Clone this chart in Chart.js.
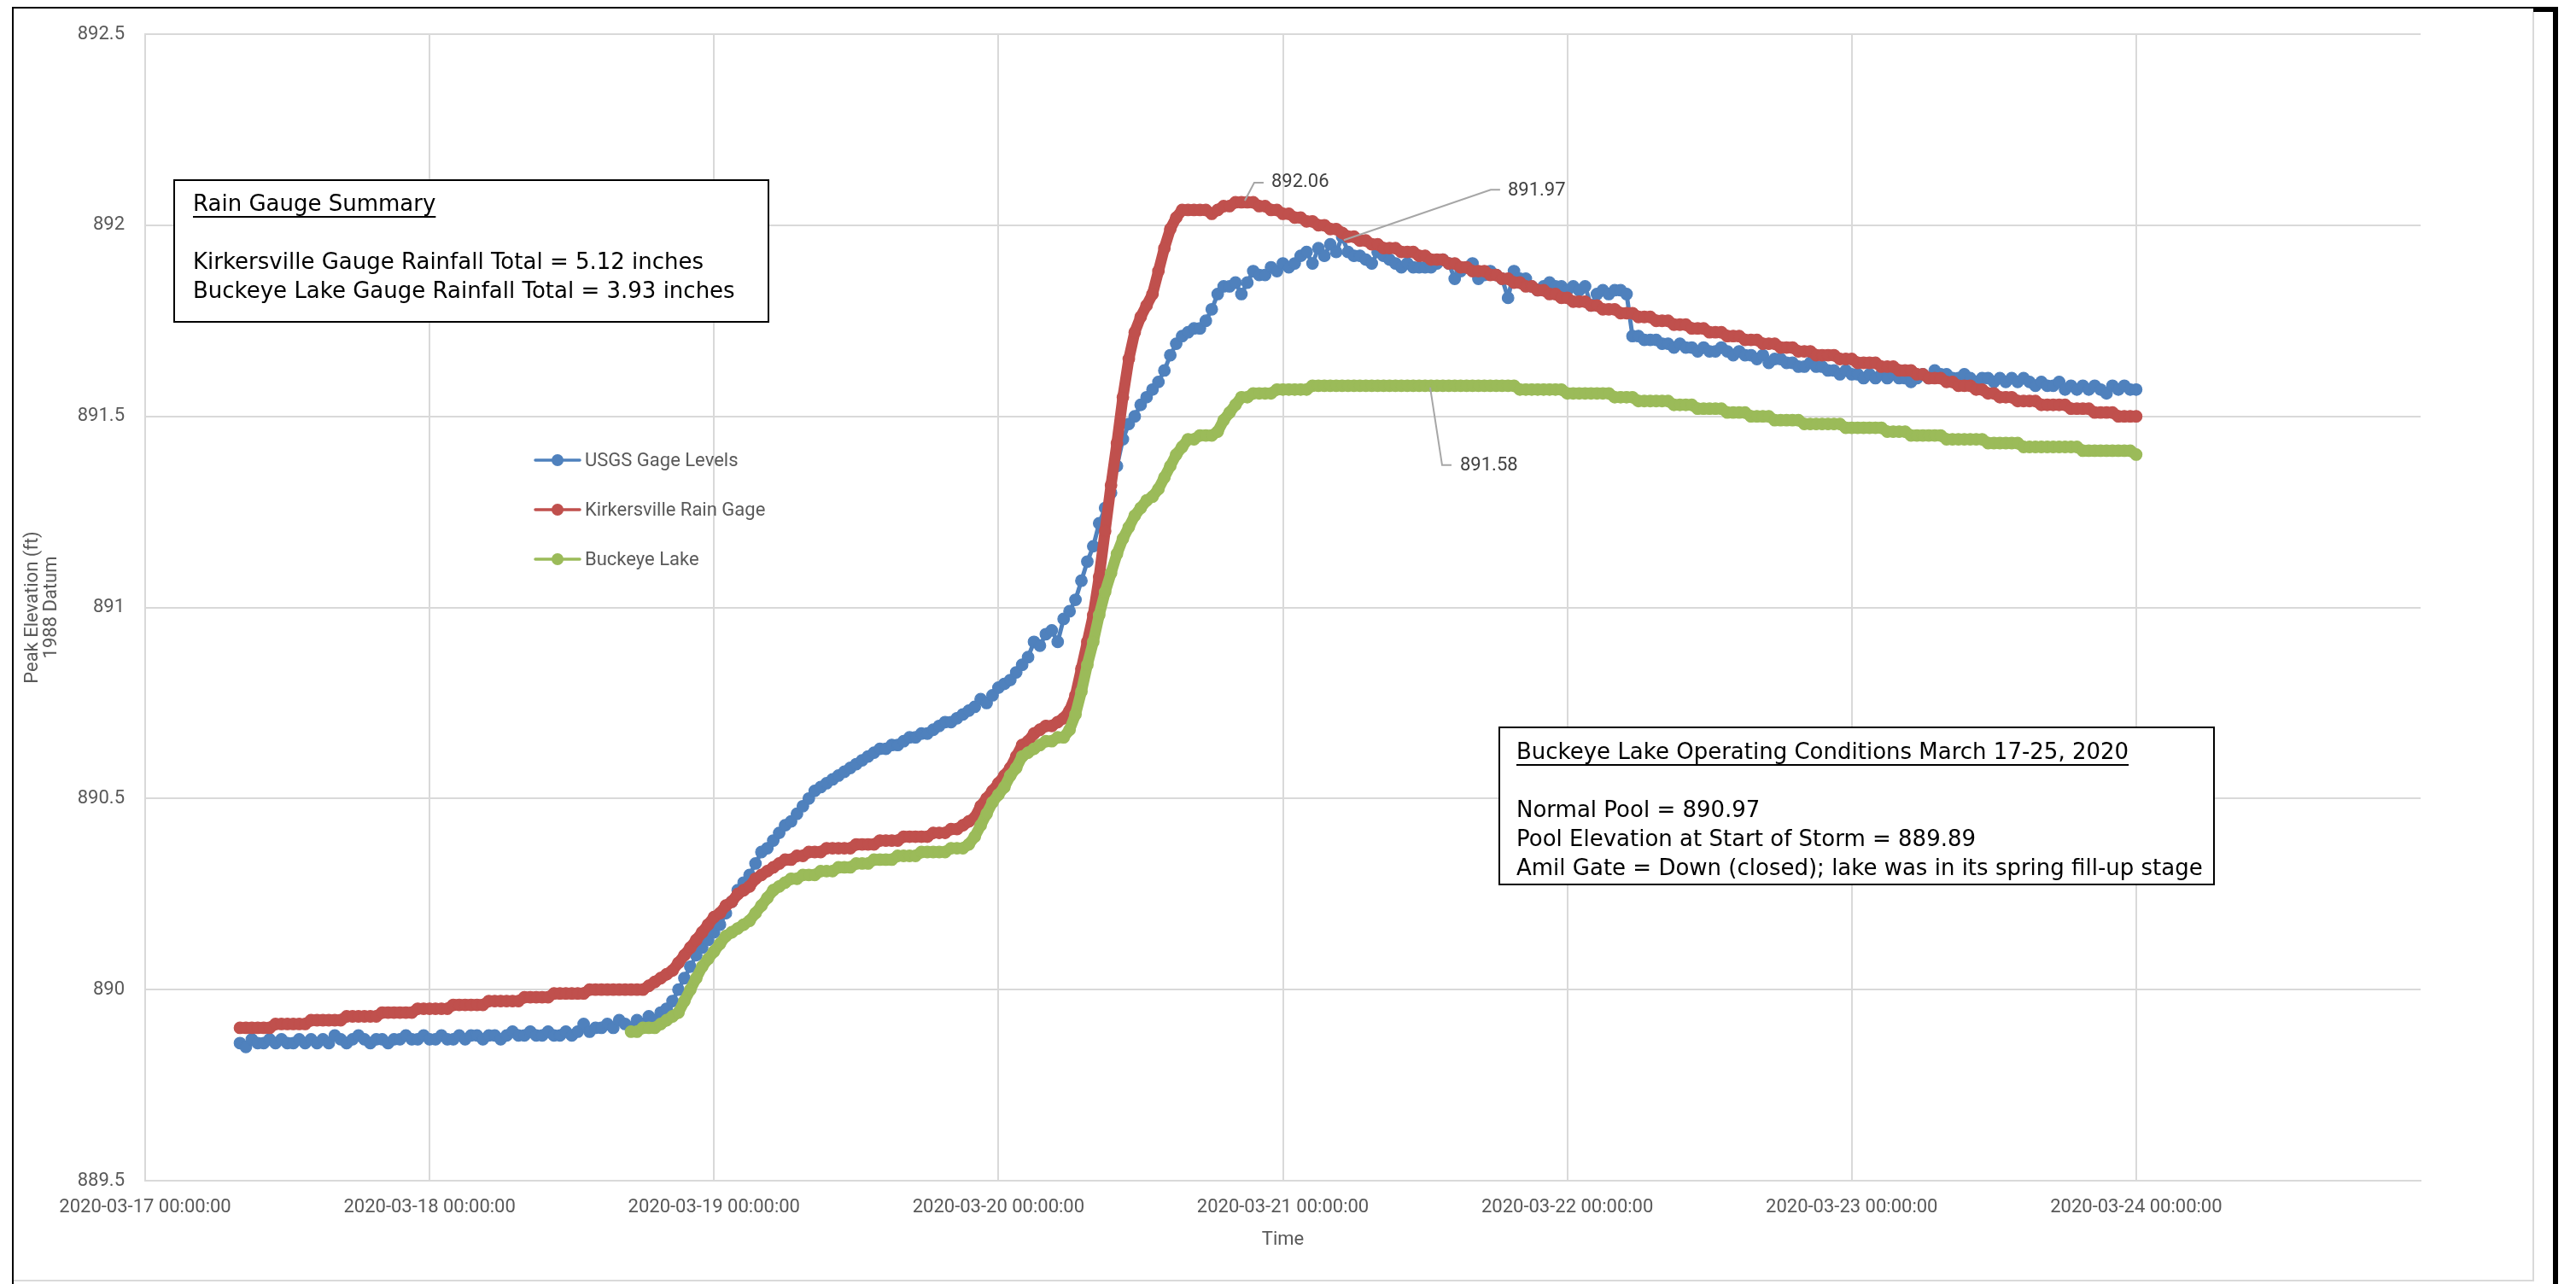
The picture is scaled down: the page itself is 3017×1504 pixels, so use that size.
<!DOCTYPE html>
<html>
<head>
<meta charset="utf-8">
<title>Buckeye Lake Peak Elevation, March 2020</title>
<script src="https://cdn.jsdelivr.net/npm/chart.js@4.4.1/dist/chart.umd.min.js"></script>
<style>
  html, body { margin: 0; padding: 0; background: #ffffff; }
  #wrap { width: 3017px; height: 1504px; position: relative; }
  canvas { display: block; }
</style>
</head>
<body>
<div id="wrap"><canvas id="chart" width="3017" height="1504"></canvas></div>
<script>
// ---------------------------------------------------------------------------
// Data: elevations (ft, 1988 datum) sampled every half hour.
// Hours are counted from 2020-03-17 00:00:00.
// ---------------------------------------------------------------------------
const SAMPLE_STEP_HOURS = 0.5;
const AXIS_END_HOURS = 192; // 2020-03-25 00:00:00

const dayTickLabels = [
  '2020-03-17 00:00:00', '2020-03-18 00:00:00', '2020-03-19 00:00:00',
  '2020-03-20 00:00:00', '2020-03-21 00:00:00', '2020-03-22 00:00:00',
  '2020-03-23 00:00:00', '2020-03-24 00:00:00'
];

const seriesNames = ['USGS Gage Levels', 'Kirkersville Rain Gage', 'Buckeye Lake'];

// USGS gage, starting 2020-03-17 08:00
const usgsStartHour = 8;
const usgsLevels = [
  889.86,889.85,889.87,889.86,889.86,889.87,889.86,889.87,889.86,889.86,889.87,889.86,
  889.87,889.86,889.87,889.86,889.88,889.87,889.86,889.87,889.88,889.87,889.86,889.87,
  889.87,889.86,889.87,889.87,889.88,889.87,889.87,889.88,889.87,889.87,889.88,889.87,
  889.87,889.88,889.87,889.88,889.88,889.87,889.88,889.88,889.87,889.88,889.89,889.88,
  889.88,889.89,889.88,889.88,889.89,889.88,889.88,889.89,889.88,889.89,889.91,889.89,
  889.90,889.90,889.91,889.90,889.92,889.91,889.90,889.92,889.91,889.93,889.92,889.94,
  889.95,889.97,890.00,890.03,890.06,890.09,890.11,890.13,890.15,890.17,890.20,890.23,
  890.26,890.28,890.30,890.33,890.36,890.37,890.39,890.41,890.43,890.44,890.46,890.48,
  890.50,890.52,890.53,890.54,890.55,890.56,890.57,890.58,890.59,890.60,890.61,890.62,
  890.63,890.63,890.64,890.64,890.65,890.66,890.66,890.67,890.67,890.68,890.69,890.70,
  890.70,890.71,890.72,890.73,890.74,890.76,890.75,890.77,890.79,890.80,890.81,890.83,
  890.85,890.87,890.91,890.90,890.93,890.94,890.91,890.97,890.99,891.02,891.07,891.12,
  891.16,891.22,891.26,891.30,891.37,891.44,891.48,891.50,891.53,891.55,891.57,891.59,
  891.62,891.66,891.69,891.71,891.72,891.73,891.73,891.75,891.78,891.82,891.84,891.84,
  891.85,891.82,891.85,891.88,891.87,891.87,891.89,891.88,891.90,891.89,891.90,891.92,
  891.93,891.90,891.94,891.92,891.95,891.93,891.97,891.93,891.92,891.92,891.91,891.90,
  891.93,891.92,891.91,891.90,891.89,891.90,891.89,891.89,891.89,891.89,891.90,891.91,
  891.90,891.86,891.88,891.89,891.90,891.86,891.87,891.88,891.87,891.86,891.81,891.88,
  891.86,891.86,891.84,891.83,891.84,891.85,891.84,891.84,891.83,891.84,891.83,891.84,
  891.79,891.82,891.83,891.82,891.83,891.83,891.82,891.71,891.71,891.70,891.70,891.70,
  891.69,891.69,891.68,891.69,891.68,891.68,891.67,891.68,891.67,891.67,891.68,891.67,
  891.66,891.67,891.66,891.66,891.65,891.66,891.64,891.65,891.65,891.64,891.64,891.63,
  891.63,891.64,891.63,891.63,891.62,891.62,891.61,891.62,891.61,891.61,891.60,891.61,
  891.60,891.61,891.60,891.61,891.60,891.60,891.59,891.60,891.61,891.60,891.62,891.61,
  891.61,891.60,891.60,891.61,891.60,891.59,891.60,891.60,891.59,891.60,891.59,891.60,
  891.59,891.60,891.59,891.58,891.59,891.58,891.58,891.59,891.57,891.58,891.57,891.58,
  891.57,891.58,891.57,891.56,891.58,891.57,891.58,891.57,891.57
];

// Kirkersville rain gage, starting 2020-03-17 08:00
const kirkersvilleStartHour = 8;
const kirkersvilleLevels = [
  889.90,889.90,889.90,889.90,889.90,889.90,889.91,889.91,889.91,889.91,889.91,889.91,
  889.92,889.92,889.92,889.92,889.92,889.92,889.93,889.93,889.93,889.93,889.93,889.93,
  889.94,889.94,889.94,889.94,889.94,889.94,889.95,889.95,889.95,889.95,889.95,889.95,
  889.96,889.96,889.96,889.96,889.96,889.96,889.97,889.97,889.97,889.97,889.97,889.97,
  889.98,889.98,889.98,889.98,889.98,889.99,889.99,889.99,889.99,889.99,889.99,890.00,
  890.00,890.00,890.00,890.00,890.00,890.00,890.00,890.00,890.00,890.01,890.02,890.03,
  890.04,890.05,890.07,890.09,890.11,890.13,890.15,890.17,890.19,890.20,890.22,890.23,
  890.25,890.26,890.27,890.29,890.30,890.31,890.32,890.33,890.34,890.34,890.35,890.35,
  890.36,890.36,890.36,890.37,890.37,890.37,890.37,890.37,890.38,890.38,890.38,890.38,
  890.39,890.39,890.39,890.39,890.40,890.40,890.40,890.40,890.40,890.41,890.41,890.41,
  890.42,890.42,890.43,890.44,890.45,890.48,890.50,890.52,890.54,890.56,890.58,890.61,
  890.64,890.65,890.67,890.68,890.69,890.69,890.70,890.71,890.73,890.77,890.84,890.91,
  890.98,891.08,891.20,891.32,891.43,891.55,891.65,891.72,891.76,891.79,891.82,891.88,
  891.94,891.99,892.02,892.04,892.04,892.04,892.04,892.04,892.03,892.04,892.05,892.05,
  892.06,892.06,892.06,892.06,892.05,892.05,892.04,892.04,892.03,892.03,892.02,892.02,
  892.01,892.01,892.00,892.00,891.99,891.99,891.98,891.97,891.97,891.96,891.96,891.95,
  891.95,891.94,891.94,891.94,891.93,891.93,891.93,891.92,891.92,891.91,891.91,891.91,
  891.90,891.90,891.89,891.89,891.88,891.88,891.88,891.87,891.87,891.86,891.86,891.85,
  891.85,891.84,891.84,891.83,891.83,891.82,891.82,891.81,891.81,891.80,891.80,891.80,
  891.79,891.79,891.78,891.78,891.78,891.77,891.77,891.77,891.76,891.76,891.76,891.75,
  891.75,891.75,891.74,891.74,891.74,891.73,891.73,891.73,891.72,891.72,891.72,891.71,
  891.71,891.71,891.70,891.70,891.70,891.69,891.69,891.69,891.68,891.68,891.68,891.67,
  891.67,891.67,891.66,891.66,891.66,891.66,891.65,891.65,891.65,891.64,891.64,891.64,
  891.64,891.63,891.63,891.63,891.62,891.62,891.62,891.61,891.61,891.60,891.60,891.60,
  891.59,891.59,891.58,891.58,891.58,891.57,891.57,891.56,891.56,891.55,891.55,891.55,
  891.54,891.54,891.54,891.54,891.53,891.53,891.53,891.53,891.53,891.52,891.52,891.52,
  891.52,891.51,891.51,891.51,891.51,891.50,891.50,891.50,891.50
];

// Buckeye Lake level, starting 2020-03-18 17:00
const buckeyeStartHour = 41;
const buckeyeLakeLevels = [
  889.89,889.89,889.90,889.90,889.90,889.91,889.92,889.93,889.94,889.97,890.00,890.03,
  890.06,890.08,890.10,890.12,890.14,890.15,890.16,890.17,890.18,890.20,890.22,890.24,
  890.26,890.27,890.28,890.29,890.29,890.30,890.30,890.30,890.31,890.31,890.31,890.32,
  890.32,890.32,890.33,890.33,890.33,890.34,890.34,890.34,890.34,890.35,890.35,890.35,
  890.35,890.36,890.36,890.36,890.36,890.36,890.37,890.37,890.37,890.38,890.40,890.43,
  890.46,890.49,890.51,890.53,890.56,890.58,890.61,890.62,890.63,890.64,890.65,890.65,
  890.66,890.66,890.68,890.72,890.78,890.85,890.91,890.98,891.04,891.09,891.14,891.18,
  891.21,891.24,891.26,891.28,891.29,891.31,891.34,891.37,891.40,891.42,891.44,891.44,
  891.45,891.45,891.45,891.46,891.49,891.51,891.53,891.55,891.55,891.56,891.56,891.56,
  891.56,891.57,891.57,891.57,891.57,891.57,891.57,891.58,891.58,891.58,891.58,891.58,
  891.58,891.58,891.58,891.58,891.58,891.58,891.58,891.58,891.58,891.58,891.58,891.58,
  891.58,891.58,891.58,891.58,891.58,891.58,891.58,891.58,891.58,891.58,891.58,891.58,
  891.58,891.58,891.58,891.58,891.58,891.58,891.57,891.57,891.57,891.57,891.57,891.57,
  891.57,891.57,891.56,891.56,891.56,891.56,891.56,891.56,891.56,891.56,891.55,891.55,
  891.55,891.55,891.54,891.54,891.54,891.54,891.54,891.54,891.53,891.53,891.53,891.53,
  891.52,891.52,891.52,891.52,891.52,891.51,891.51,891.51,891.51,891.50,891.50,891.50,
  891.50,891.49,891.49,891.49,891.49,891.49,891.48,891.48,891.48,891.48,891.48,891.48,
  891.48,891.47,891.47,891.47,891.47,891.47,891.47,891.47,891.46,891.46,891.46,891.46,
  891.45,891.45,891.45,891.45,891.45,891.45,891.44,891.44,891.44,891.44,891.44,891.44,
  891.44,891.43,891.43,891.43,891.43,891.43,891.43,891.42,891.42,891.42,891.42,891.42,
  891.42,891.42,891.42,891.42,891.42,891.41,891.41,891.41,891.41,891.41,891.41,891.41,
  891.41,891.41,891.40
];

// Hours at which the peak values are called out (one per series)
const usgsPeakHour = 101;
const kirkersvillePeakHour = 92.5;
const buckeyePeakHour = 108.5;

const rainSummaryLines = [
  'Rain Gauge Summary',
  '',
  'Kirkersville Gauge Rainfall Total = 5.12 inches',
  'Buckeye Lake Gauge Rainfall Total = 3.93 inches'
];
const operatingLines = [
  'Buckeye Lake Operating Conditions March 17-25, 2020',
  '',
  'Normal Pool = 890.97',
  'Pool Elevation at Start of Storm = 889.89',
  'Amil Gate = Down (closed); lake was in its spring fill-up stage'
];

// ---------------------------------------------------------------------------
// Chart construction
// ---------------------------------------------------------------------------
const COLORS = { usgs: '#4F81BD', kirk: '#C0504D', lake: '#9BBB59' };
const TICK_FONT = { family: 'Roboto', size: 22 };
const GRID = '#D9D9D9';

function toPoints(startHour, values) {
  return values.map((v, i) => ({ x: startHour + i * SAMPLE_STEP_HOURS, y: v }));
}

// Dense gauge records read as a continuous band of markers,
// so the connecting stroke is drawn almost as wide as a marker.
function lineSeries(label, color, startHour, values, order, strokeWidth) {
  return {
    label,
    data: toPoints(startHour, values),
    borderColor: color,
    backgroundColor: color,
    borderWidth: strokeWidth,
    borderJoinStyle: 'round',
    borderCapStyle: 'round',
    pointRadius: 6.8,
    pointBorderWidth: 1.2,
    pointBackgroundColor: color,
    pointBorderColor: color,
    pointHoverRadius: 6.8,
    tension: 0,
    fill: false,
    order
  };
}

const seriesInfo = [
  { color: COLORS.usgs, start: usgsStartHour, values: usgsLevels, peak: usgsPeakHour },
  { color: COLORS.kirk, start: kirkersvilleStartHour, values: kirkersvilleLevels, peak: kirkersvillePeakHour },
  { color: COLORS.lake, start: buckeyeStartHour, values: buckeyeLakeLevels, peak: buckeyePeakHour }
];

// Page background and the framed border around the figure
const framePlugin = {
  id: 'frame',
  beforeDraw(chart) {
    const ctx = chart.ctx;
    ctx.save();
    ctx.fillStyle = '#ffffff';
    ctx.fillRect(0, 0, chart.width, chart.height);
    ctx.restore();
  },
  afterDraw(chart) {
    const ctx = chart.ctx;
    ctx.save();
    ctx.fillStyle = GRID;
    ctx.fillRect(2966, 14, 2, 1487);
    ctx.fillRect(16, 1499, 2952, 2);
    ctx.fillStyle = '#000000';
    ctx.fillRect(14, 8, 2, 1496);
    ctx.fillRect(14, 8, 2982, 2);
    ctx.fillRect(2967, 8, 29, 6);
    ctx.fillRect(2990, 8, 6, 1496);
    ctx.restore();
  }
};

// Legend drawn inside the plot area
const legendPlugin = {
  id: 'innerLegend',
  afterDatasetsDraw(chart) {
    const ctx = chart.ctx;
    const rows = [539, 597, 655];
    ctx.save();
    ctx.font = '22px Roboto';
    ctx.textBaseline = 'middle';
    ctx.textAlign = 'left';
    seriesNames.forEach((name, i) => {
      const y = rows[i];
      const c = seriesInfo[i].color;
      ctx.strokeStyle = c;
      ctx.lineWidth = 3.5;
      ctx.lineCap = 'round';
      ctx.beginPath();
      ctx.moveTo(627, y);
      ctx.lineTo(679, y);
      ctx.stroke();
      ctx.fillStyle = c;
      ctx.beginPath();
      ctx.arc(653, y, 7, 0, Math.PI * 2);
      ctx.fill();
      ctx.fillStyle = '#595959';
      ctx.fillText(name, 685, y + 1);
    });
    ctx.restore();
  }
};

// Peak value call-outs with leader lines, anchored on the plotted points
const calloutLayout = [
  { path: [[2, 4], [174, -55], [185, -55]], text: [194, -54] },
  { path: [[4, -2], [15, -23], [26, -23]], text: [35, -23] },
  { path: [[-1, 2], [13, 93], [24, 93]], text: [34, 94] }
];
const calloutPlugin = {
  id: 'peakCallouts',
  afterDatasetsDraw(chart) {
    const ctx = chart.ctx;
    ctx.save();
    ctx.font = '22px Roboto';
    ctx.textBaseline = 'middle';
    ctx.textAlign = 'left';
    seriesInfo.forEach((s, i) => {
      const idx = Math.round((s.peak - s.start) / SAMPLE_STEP_HOURS);
      const pt = chart.getDatasetMeta(i).data[idx];
      if (!pt) return;
      const lay = calloutLayout[i];
      ctx.strokeStyle = '#A6A6A6';
      ctx.lineWidth = 2;
      ctx.beginPath();
      lay.path.forEach(([dx, dy], k) => {
        if (k === 0) ctx.moveTo(pt.x + dx, pt.y + dy);
        else ctx.lineTo(pt.x + dx, pt.y + dy);
      });
      ctx.stroke();
      ctx.fillStyle = '#404040';
      ctx.fillText(s.values[idx].toFixed(2), pt.x + lay.text[0], pt.y + lay.text[1]);
    });
    ctx.restore();
  }
};

// Text boxes with underlined headings
function drawNoteBox(ctx, box, lines) {
  ctx.fillStyle = '#ffffff';
  ctx.fillRect(box.x, box.y, box.w, box.h);
  ctx.strokeStyle = '#000000';
  ctx.lineWidth = 2;
  ctx.strokeRect(box.x, box.y, box.w, box.h);
  ctx.font = '26px "DejaVu Sans"';
  ctx.fillStyle = '#000000';
  ctx.textBaseline = 'middle';
  ctx.textAlign = 'left';
  lines.forEach((line, i) => {
    if (!line) return;
    const y = box.firstLine + i * box.gap;
    ctx.fillText(line, box.textX, y);
    if (i === 0) {
      const w = ctx.measureText(line).width;
      ctx.fillRect(box.textX, y + 13, w, 2);
    }
  });
}
const notesPlugin = {
  id: 'notes',
  afterDatasetsDraw(chart) {
    const ctx = chart.ctx;
    ctx.save();
    drawNoteBox(ctx, { x: 204, y: 211, w: 696, h: 166, textX: 226, firstLine: 240, gap: 34 }, rainSummaryLines);
    drawNoteBox(ctx, { x: 1756, y: 852, w: 837, h: 184, textX: 1776, firstLine: 882, gap: 34 }, operatingLines);
    ctx.restore();
  }
};

const chart = new Chart(document.getElementById('chart'), {
  type: 'line',
  data: {
    datasets: [
      lineSeries(seriesNames[0], COLORS.usgs, usgsStartHour, usgsLevels, 2, 5),
      lineSeries(seriesNames[1], COLORS.kirk, kirkersvilleStartHour, kirkersvilleLevels, 1, 13),
      lineSeries(seriesNames[2], COLORS.lake, buckeyeStartHour, buckeyeLakeLevels, 0, 13)
    ]
  },
  options: {
    responsive: false,
    maintainAspectRatio: false,
    animation: false,
    devicePixelRatio: 1,
    events: [],
    layout: { padding: { left: 0, top: 40, right: 182, bottom: 0 } },
    plugins: {
      legend: { display: false },
      tooltip: { enabled: false }
    },
    scales: {
      x: {
        type: 'linear',
        min: 0,
        max: AXIS_END_HOURS,
        afterFit(scale) { scale.height = 121; },
        ticks: {
          stepSize: 24,
          autoSkip: false,
          maxRotation: 0,
          minRotation: 0,
          padding: 18,
          color: '#595959',
          font: TICK_FONT,
          callback: (v) => dayTickLabels[Math.round(v / 24)] || ''
        },
        grid: {
          color: (c) => (c.tick && c.tick.value >= AXIS_END_HOURS ? 'rgba(0,0,0,0)' : GRID),
          lineWidth: 2,
          drawTicks: false
        },
        border: { color: GRID, width: 2 },
        title: {
          display: true,
          text: 'Time',
          color: '#595959',
          font: { family: 'Roboto', size: 22 },
          padding: { top: 0, bottom: 38 }
        }
      },
      y: {
        min: 889.5,
        max: 892.5,
        afterFit(scale) { scale.width = 170; },
        ticks: {
          stepSize: 0.5,
          padding: 24,
          color: '#595959',
          font: TICK_FONT,
          callback: (v) => String(Number(v.toFixed(1)))
        },
        grid: { color: GRID, lineWidth: 2, drawTicks: false },
        border: { color: GRID, width: 2 },
        title: {
          display: true,
          text: ['Peak Elevation (ft)', '1988 Datum'],
          color: '#595959',
          font: { family: 'Roboto', size: 22, lineHeight: 1.0 },
          padding: { top: 27, bottom: 0 }
        }
      }
    }
  },
  plugins: [framePlugin, notesPlugin, legendPlugin, calloutPlugin]
});
</script>
</body>
</html>
